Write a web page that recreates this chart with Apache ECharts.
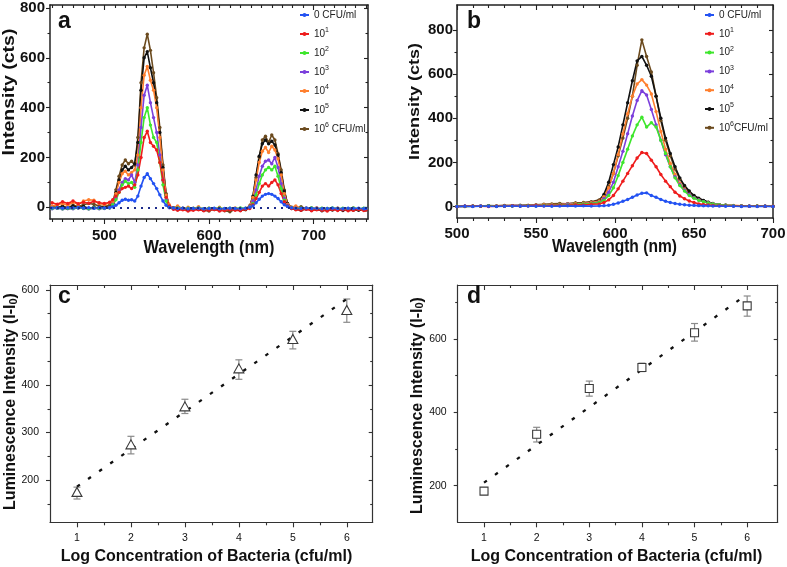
<!DOCTYPE html>
<html><head><meta charset="utf-8">
<script src="https://cdn.jsdelivr.net/npm/echarts@6.0.0/dist/echarts.min.js"></script>
<style>html,body{margin:0;padding:0;background:#fff}#c{width:787px;height:567px}</style>
</head><body><div id="c"></div>
<script>
const FONT = '"Liberation Sans", Arial, Helvetica, sans-serif';

// ---------- Panel a : emission spectra (wavelength nm / intensity cts)
const WL_A = [450,455,460,465,470,475,480,485,490,495,500,505,
  508,511,514,517,520,523,526,529,532,535,538,541,544,547,550,553,556,559,
  562,566,570,575,580,585,590,595,600,605,610,615,620,625,630,635,
  639,642,645,648,651,654,657,660,663,666,669,672,675,
  679,683,688,693,698,703,708,713,718,723,728,733,738,743,748,750];
const A_0 = [-3,-2,-4,-2,-3,-1,-3,-2,-4,-2,-3,-1,
  2,8,18,28,32,28,30,25,45,85,120,135,115,95,75,50,25,8,
  0,-3,-5,-4,-6,-5,-4,-6,-5,-4,-6,-5,-4,-5,-6,-4,
  0,5,18,32,45,52,55,52,45,35,22,10,3,
  -2,-4,-5,-3,-5,-4,-6,-5,-4,-5,-6,-4,-5,-4,-6,-5];
const A_1 = [18,12,22,15,25,14,20,16,24,18,15,20,
  30,45,60,75,80,85,75,90,130,200,280,305,260,245,230,180,110,40,
  5,-8,-12,-10,-15,-12,-10,-14,-12,-9,-15,-13,-10,-12,-14,-8,
  -5,10,35,60,85,95,85,100,110,90,55,22,5,
  -5,-10,-12,-8,-14,-10,-12,-15,-9,-13,-10,-14,-12,-9,-13,-11];
const A_2 = [-5,-3,-6,-4,-5,-2,-4,-6,-3,-5,-4,-2,
  10,30,60,90,105,95,100,80,150,260,360,400,330,280,260,180,90,25,
  0,-5,-3,-6,-4,-5,-3,-6,-4,-5,-3,-6,-4,-5,-3,-4,
  0,15,50,95,130,150,160,150,165,125,75,28,5,
  -3,-6,-4,-5,-3,-6,-4,-5,-3,-6,-4,-5,-3,-6,-4,-5];
const A_3 = [-6,-4,-7,-5,-6,-3,-5,-7,-4,-6,-5,-3,
  12,35,70,100,115,110,130,100,170,320,450,490,420,360,300,210,110,30,
  -2,-6,-4,-7,-5,-6,-4,-7,-5,-6,-4,-7,-5,-6,-4,-5,
  2,25,70,125,165,185,190,175,200,160,95,35,8,
  -4,-6,-5,-7,-4,-6,-5,-7,-4,-6,-5,-7,-4,-6,-5,-6];
const A_4 = [5,10,15,8,20,12,25,30,28,15,10,18,
  20,55,100,135,145,130,140,150,210,400,530,565,510,470,400,280,150,50,
  10,-5,5,-8,0,-6,2,-10,-4,-8,0,-12,-6,-3,-9,-5,
  5,40,110,180,225,240,220,245,230,195,130,55,12,
  0,5,-6,-3,-8,-2,-10,-5,-7,-4,-9,-6,-3,-8,-12,-6];
const A_5 = [0,-3,2,-5,5,-2,3,-4,0,-3,2,-1,
  15,60,110,150,165,150,160,175,260,470,600,625,560,500,420,300,160,50,
  5,-5,-8,-4,-10,-6,-8,-12,-7,-9,-5,-10,-8,-6,-11,-7,
  5,45,130,205,255,270,255,265,250,210,140,65,15,
  -5,-8,-12,-6,-10,-8,-14,-9,-11,-7,-13,-10,-8,-12,-9,-10];
const A_6 = [2,0,5,-2,8,3,10,15,12,5,3,8,
  18,70,125,170,190,175,185,170,280,500,640,695,630,540,440,320,170,55,
  5,-2,2,-5,-10,-4,-8,-12,-15,-6,-10,-14,-18,-8,-12,-10,
  5,40,120,200,270,285,260,290,270,215,150,70,15,
  0,-4,2,-6,-3,-8,-5,-10,-7,-4,-9,-6,-12,-8,-5,-10];
const A_BASELINE = 0;

// ---------- Panel b
const WL_B = [500,505,510,515,520,525,530,535,540,545,550,555,560,565,570,575,580,585,590,
  593,596,599,602,605,608,611,614,617,620,623,626,629,632,635,638,641,644,647,650,653,656,659,662,
  666,670,675,680,685,690,695,700];
const B_0 = [0,1,0,2,1,0,1,2,1,2,1,2,1,2,3,2,3,2,3,
  4,6,10,16,24,32,42,52,60,62,50,42,32,24,18,14,10,8,6,5,4,3,3,2,
  2,1,1,0,1,0,1,0];
const B_1 = [0,1,2,1,0,2,1,3,2,3,4,3,5,6,5,8,7,10,12,
  18,30,50,80,115,150,185,220,245,240,210,180,145,115,90,65,48,35,25,18,12,9,7,5,
  4,3,2,2,1,2,1,1];
const B_2 = [1,0,2,1,3,2,1,2,3,4,3,5,6,8,7,10,12,14,18,
  28,50,85,140,200,260,320,370,405,360,380,360,300,240,180,130,95,70,50,38,28,22,16,12,
  8,6,4,3,2,3,2,1];
const B_3 = [0,2,1,3,1,2,2,3,4,3,5,4,6,8,10,9,12,15,20,
  35,65,110,180,250,330,410,480,525,505,440,370,300,235,180,135,100,75,55,40,30,22,16,12,
  8,6,4,3,2,2,1,1];
const B_4 = [1,0,2,3,1,2,3,4,3,5,6,8,9,10,12,14,15,18,25,
  45,85,150,235,330,420,500,555,575,550,510,430,340,260,195,145,105,78,55,40,30,22,16,12,
  8,6,5,3,2,2,1,2];
const B_5 = [0,2,1,2,3,1,2,4,3,5,4,6,8,10,12,15,14,18,28,
  55,110,190,270,370,470,570,660,680,640,590,500,400,310,240,180,130,95,70,50,38,28,20,14,
  8,6,4,3,2,2,1,1];
const B_6 = [1,2,3,2,4,3,5,4,6,5,8,10,12,14,12,16,18,22,30,
  45,90,150,230,310,400,500,640,755,680,610,500,390,300,230,170,125,90,65,48,35,25,18,12,
  8,6,4,3,2,2,1,1];

const LEGEND_A = ['0 CFU/ml','10{s|1}','10{s|2}','10{s|3}','10{s|4}','10{s|5}','10{s|6} CFU/ml'];
const LEGEND_B = ['0 CFU/ml','10{s|1}','10{s|2}','10{s|3}','10{s|4}','10{s|5}','10{s|6}CFU/ml'];

// ---------- Panel c / d : calibration
const C_X = [1,2,3,4,5,6];
const C_Y = [175,275,355,435,497,558];
const C_LO = [160,255,340,412,476,532];
const C_HI = [185,292,370,453,513,581];
const C_FIT_X = [1,6];
const C_FIT_Y = [186,581];

const D_X = [1,2,3,4,5,6];
const D_Y = [185,340,465,522,617,690];
const D_LO = [176,319,444,511,594,662];
const D_HI = [194,359,485,534,642,717];
const D_FIT_X = [1,6];
const D_FIT_Y = [208,722];

// ---------- tick labels
const A_XTICKS = [500,600,700];
const A_YTICKS = [0,200,400,600,800];
const B_XTICKS = [500,550,600,650,700];
const B_YTICKS = [0,200,400,600,800];
const C_XTICKS = [1,2,3,4,5,6];
const C_YTICKS = [200,300,400,500,600];
const D_XTICKS = [1,2,3,4,5,6];
const D_YTICKS = [200,400,600];

const COLORS = ['#2352f2','#ee1c1c','#3ee62c','#7b3fdc','#ff7f2e','#111111','#6b4a1e'];

function minorTicks(from, to, step, majors) {
  const out = [];
  for (let v = from; v <= to + 1e-9; v += step) {
    const r = Math.round(v * 1000) / 1000;
    if (!majors.some(m => Math.abs(m - r) < 1e-6)) out.push(r);
  }
  return out;
}

const PANELS = [
  {grid:{left:50, top:5, width:318, height:214}, xr:[448,752], yr:[-47,812],
   xt:A_XTICKS, yt:A_YTICKS, xm:minorTicks(450,750,10,A_XTICKS), ym:[100,300,500,700],
   bold:true, fs:15, xmargin:9, ymargin:5, color:'#222', lw:1.5},
  {grid:{left:457, top:5, width:316, height:213}, xr:[500,700], yr:[-52,913],
   xt:B_XTICKS, yt:B_YTICKS, xm:minorTicks(510,690,10,B_XTICKS), ym:[100,300,500,700],
   bold:true, fs:15, xmargin:8, ymargin:4, color:'#222', lw:1.5},
  {grid:{left:50, top:285, width:322.7, height:237.3}, xr:[0.5,6.48], yr:[111,610.5],
   xt:C_XTICKS, yt:C_YTICKS, xm:[1.5,2.5,3.5,4.5,5.5], ym:[150,250,350,450,550],
   bold:false, fs:10.5, xmargin:10, ymargin:11, color:'#333', lw:1.2},
  {grid:{left:457.7, top:285, width:320, height:237.3}, xr:[0.5,6.58], yr:[100,747],
   xt:D_XTICKS, yt:D_YTICKS, xm:[1.5,2.5,3.5,4.5,5.5], ym:[300,500,700],
   bold:false, fs:10.5, xmargin:10, ymargin:11, color:'#333', lw:1.2}
];

function mkAxis(g, pos, range, vals, p, o) {
  return {
    type:'value', gridIndex:g, position:pos, min:range[0], max:range[1],
    axisLine:{show:!!o.line, onZero:false, lineStyle:{color:p.color, width:p.lw}},
    axisTick:{show:true, inside:!!o.inside, length:o.len, customValues:vals,
              lineStyle:{color:p.color, width:1.1}},
    axisLabel:{show:!!o.label, customValues:vals, margin:o.margin, fontSize:p.fs,
               fontWeight:p.bold ? 'bold' : 'normal', color:'#111', fontFamily:FONT},
    splitLine:{show:false}, minorTick:{show:false}, axisPointer:{show:false}
  };
}

const grids = [], xAxes = [], yAxes = [];
PANELS.forEach((p, g) => {
  grids.push(Object.assign({containLabel:false, outerBoundsMode:'none'}, p.grid));
  xAxes.push(mkAxis(g,'bottom',p.xr,p.xt,p,{line:true,label:true,len:5,margin:p.xmargin}));
  xAxes.push(mkAxis(g,'bottom',p.xr,p.xm,p,{line:false,len:3}));
  xAxes.push(mkAxis(g,'top',p.xr,p.xt,p,{line:true,inside:true,len:5}));
  xAxes.push(mkAxis(g,'top',p.xr,p.xm,p,{line:false,inside:true,len:3}));
  yAxes.push(mkAxis(g,'left',p.yr,p.yt,p,{line:true,label:true,len:4,margin:p.ymargin}));
  yAxes.push(mkAxis(g,'left',p.yr,p.ym,p,{line:false,len:2.5}));
  yAxes.push(mkAxis(g,'right',p.yr,p.yt,p,{line:true,inside:true,len:4}));
  yAxes.push(mkAxis(g,'right',p.yr,p.ym,p,{line:false,inside:true,len:2.5}));
});

const series = [];
const A_SET = [A_0,A_1,A_2,A_3,A_4,A_5,A_6];
const B_SET = [B_0,B_1,B_2,B_3,B_4,B_5,B_6];
function spectrum(name, wl, vals, k, axisIdx) {
  return {
    type:'line', name:name, xAxisIndex:axisIdx, yAxisIndex:axisIdx,
    data: wl.map((w, i) => [w, vals[i]]),
    symbol:'circle', symbolSize:3.4, showSymbol:true, showAllSymbol:true,
    lineStyle:{width:1.6, color:COLORS[k]}, itemStyle:{color:COLORS[k]},
    emphasis:{disabled:true}, silent:true, animation:false
  };
}
for (let k = 6; k >= 0; k--) {
  const s = spectrum('a' + k, WL_A, A_SET[k], k, 0);
  if (k === 6) {
    s.markLine = {silent:true, symbol:'none', label:{show:false},
      lineStyle:{type:[2,5], color:'#1b2a8a', width:2},
      data:[{yAxis:A_BASELINE}]};
  }
  series.push(s);
}
for (let k = 6; k >= 0; k--) series.push(spectrum('b' + k, WL_B, B_SET[k], k, 4));

function errorBars(xs, lo, hi, axisIdx) {
  return {
    type:'custom', xAxisIndex:axisIdx, yAxisIndex:axisIdx, silent:true,
    data: xs.map((x, i) => [x, lo[i], hi[i]]),
    renderItem: (params, api) => {
      const x = api.value(0);
      const p1 = api.coord([x, api.value(2)]);
      const p2 = api.coord([x, api.value(1)]);
      const hw = 3.5;
      const st = {stroke:'#8a8a8a', lineWidth:1.2};
      return {type:'group', children:[
        {type:'line', shape:{x1:p1[0], y1:p1[1], x2:p2[0], y2:p2[1]}, style:st},
        {type:'line', shape:{x1:p1[0]-hw, y1:p1[1], x2:p1[0]+hw, y2:p1[1]}, style:st},
        {type:'line', shape:{x1:p2[0]-hw, y1:p2[1], x2:p2[0]+hw, y2:p2[1]}, style:st}
      ]};
    }
  };
}
function fitLine(xs, ys, axisIdx) {
  return {type:'line', xAxisIndex:axisIdx, yAxisIndex:axisIdx, silent:true,
    data: xs.map((x, i) => [x, ys[i]]), symbol:'none',
    lineStyle:{type:[3.5,10], width:2.3, color:'#111', cap:'butt'}};
}
function points(xs, ys, axisIdx, sym, size) {
  return {type:'scatter', xAxisIndex:axisIdx, yAxisIndex:axisIdx, silent:true,
    data: xs.map((x, i) => [x, ys[i]]), symbol:sym, symbolSize:size,
    itemStyle:{color:'#ffffff', borderColor:'#3a3a3a', borderWidth:1.1, opacity:1}, z:4};
}
series.push(errorBars(C_X, C_LO, C_HI, 8));
series.push(points(C_X, C_Y, 8, 'triangle', [10,9]));
series.push(fitLine(C_FIT_X, C_FIT_Y, 8));
series.push(errorBars(D_X, D_LO, D_HI, 12));
series.push(points(D_X, D_Y, 12, 'rect', [8,8]));
series.push(fitLine(D_FIT_X, D_FIT_Y, 12));

function legend(prefix, labels, left, top, gap) {
  return {
    data: labels.map((_, i) => prefix + i), orient:'vertical', left:left, top:top,
    itemWidth:9, itemHeight:5, itemGap:gap, selectedMode:false, padding:0,
    formatter: n => labels[+n.slice(1)],
    textStyle:{fontSize:10, color:'#222', fontFamily:FONT, lineHeight:14,
      rich:{s:{fontSize:7, lineHeight:8, verticalAlign:'top', color:'#222', fontFamily:FONT}}}
  };
}

function txt(x, y, text, size, opts) {
  opts = opts || {};
  return {type:'text', x:x, y:y, rotation:opts.rot || 0, scaleX:opts.sx || 1, scaleY:opts.sy || 1,
    silent:true, z:10,
    style:{text:text, fill:'#111', fontSize:size, fontWeight:'bold', fontFamily:FONT,
      align:opts.align || 'center', verticalAlign:'middle', rich:opts.rich}};
}
const SUB = {sub:{fontSize:11, lineHeight:11, verticalAlign:'bottom', fontWeight:'bold', fontFamily:FONT, fill:'#111'}};

const option = {
  animation:false,
  backgroundColor:'#ffffff',
  grid: grids, xAxis: xAxes, yAxis: yAxes, series: series,
  legend: [legend('a', LEGEND_A, 299, 8, 5), legend('b', LEGEND_B, 704, 8, 4.8)],
  graphic: [
    txt(58, 22, 'a', 23, {align:'left'}),
    txt(467, 22, 'b', 23, {align:'left'}),
    txt(58, 297, 'c', 23, {align:'left'}),
    txt(467, 297, 'd', 23, {align:'left'}),
    txt(209, 248, 'Wavelength (nm)', 19, {sx:0.86}),
    txt(614.5, 247, 'Wavelength (nm)', 19, {sx:0.82}),
    txt(206.5, 557, 'Log Concentration of Bacteria (cfu/ml)', 16),
    txt(616.5, 557, 'Log Concentration of Bacteria (cfu/ml)', 16),
    txt(9, 92, 'Intensity (cts)', 19.5, {rot:Math.PI/2, sy:0.88}),
    txt(415, 101.5, 'Intensity (cts)', 18, {rot:Math.PI/2, sy:0.86}),
    txt(11, 401.5, 'Luminescence Intensity (I-I{sub|0})', 16, {rot:Math.PI/2, rich:SUB}),
    txt(417.5, 405.5, 'Luminescence Intensity (I-I{sub|0})', 16, {rot:Math.PI/2, rich:SUB})
  ]
};

const chart = echarts.init(document.getElementById('c'), null, {renderer:'canvas', width:787, height:567});
chart.setOption(option);
</script></body></html>
